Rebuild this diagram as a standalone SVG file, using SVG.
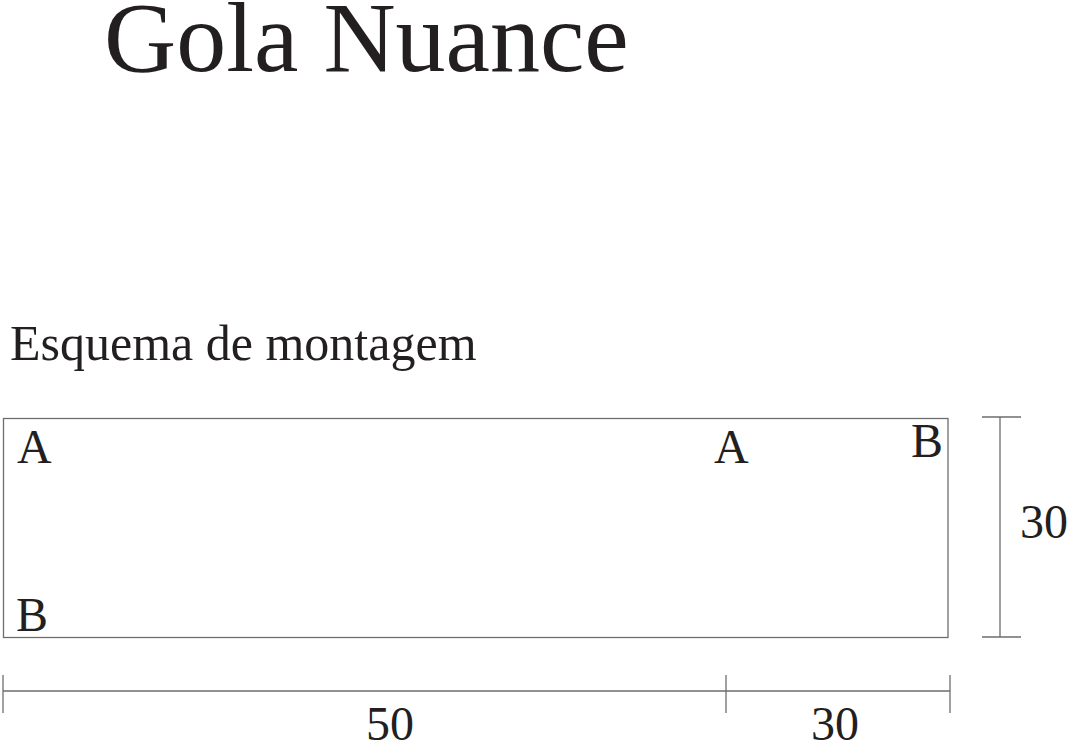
<svg xmlns="http://www.w3.org/2000/svg" width="1069" height="743" viewBox="0 0 1069 743">
<style>
text{font-family:"Liberation Serif","Times New Roman",serif;fill:#231f20}
.lbl{font-size:48px}
.ln{stroke:#6d6d6d;stroke-width:1.3;fill:none}
</style>
<rect width="1069" height="743" fill="#fff"/>
<text x="104" y="71" style="font-size:100px">Gola Nuance</text>
<text x="10" y="360" style="font-size:50px">Esquema de montagem</text>
<g id="piece">
<rect x="3.5" y="418.5" width="944.5" height="219" class="ln"/>
<text x="17" y="463" class="lbl">A</text>
<text x="714" y="463" class="lbl">A</text>
<text x="911" y="457" class="lbl">B</text>
<text x="16" y="631" class="lbl">B</text>
</g>
<g id="dimensions">
<line x1="1000" y1="417" x2="1000" y2="637" class="ln"/>
<line x1="982" y1="417" x2="1021" y2="417" class="ln"/>
<line x1="982" y1="637" x2="1021" y2="637" class="ln"/>
<line x1="3" y1="691" x2="950" y2="691" class="ln"/>
<line x1="3" y1="675" x2="3" y2="713" class="ln"/>
<line x1="726" y1="675" x2="726" y2="713" class="ln"/>
<line x1="950" y1="675" x2="950" y2="713" class="ln"/>
</g>
<text x="1020" y="538" class="lbl">30</text>
<text x="366" y="740" class="lbl">50</text>
<text x="811" y="740" class="lbl">30</text>
</svg>
